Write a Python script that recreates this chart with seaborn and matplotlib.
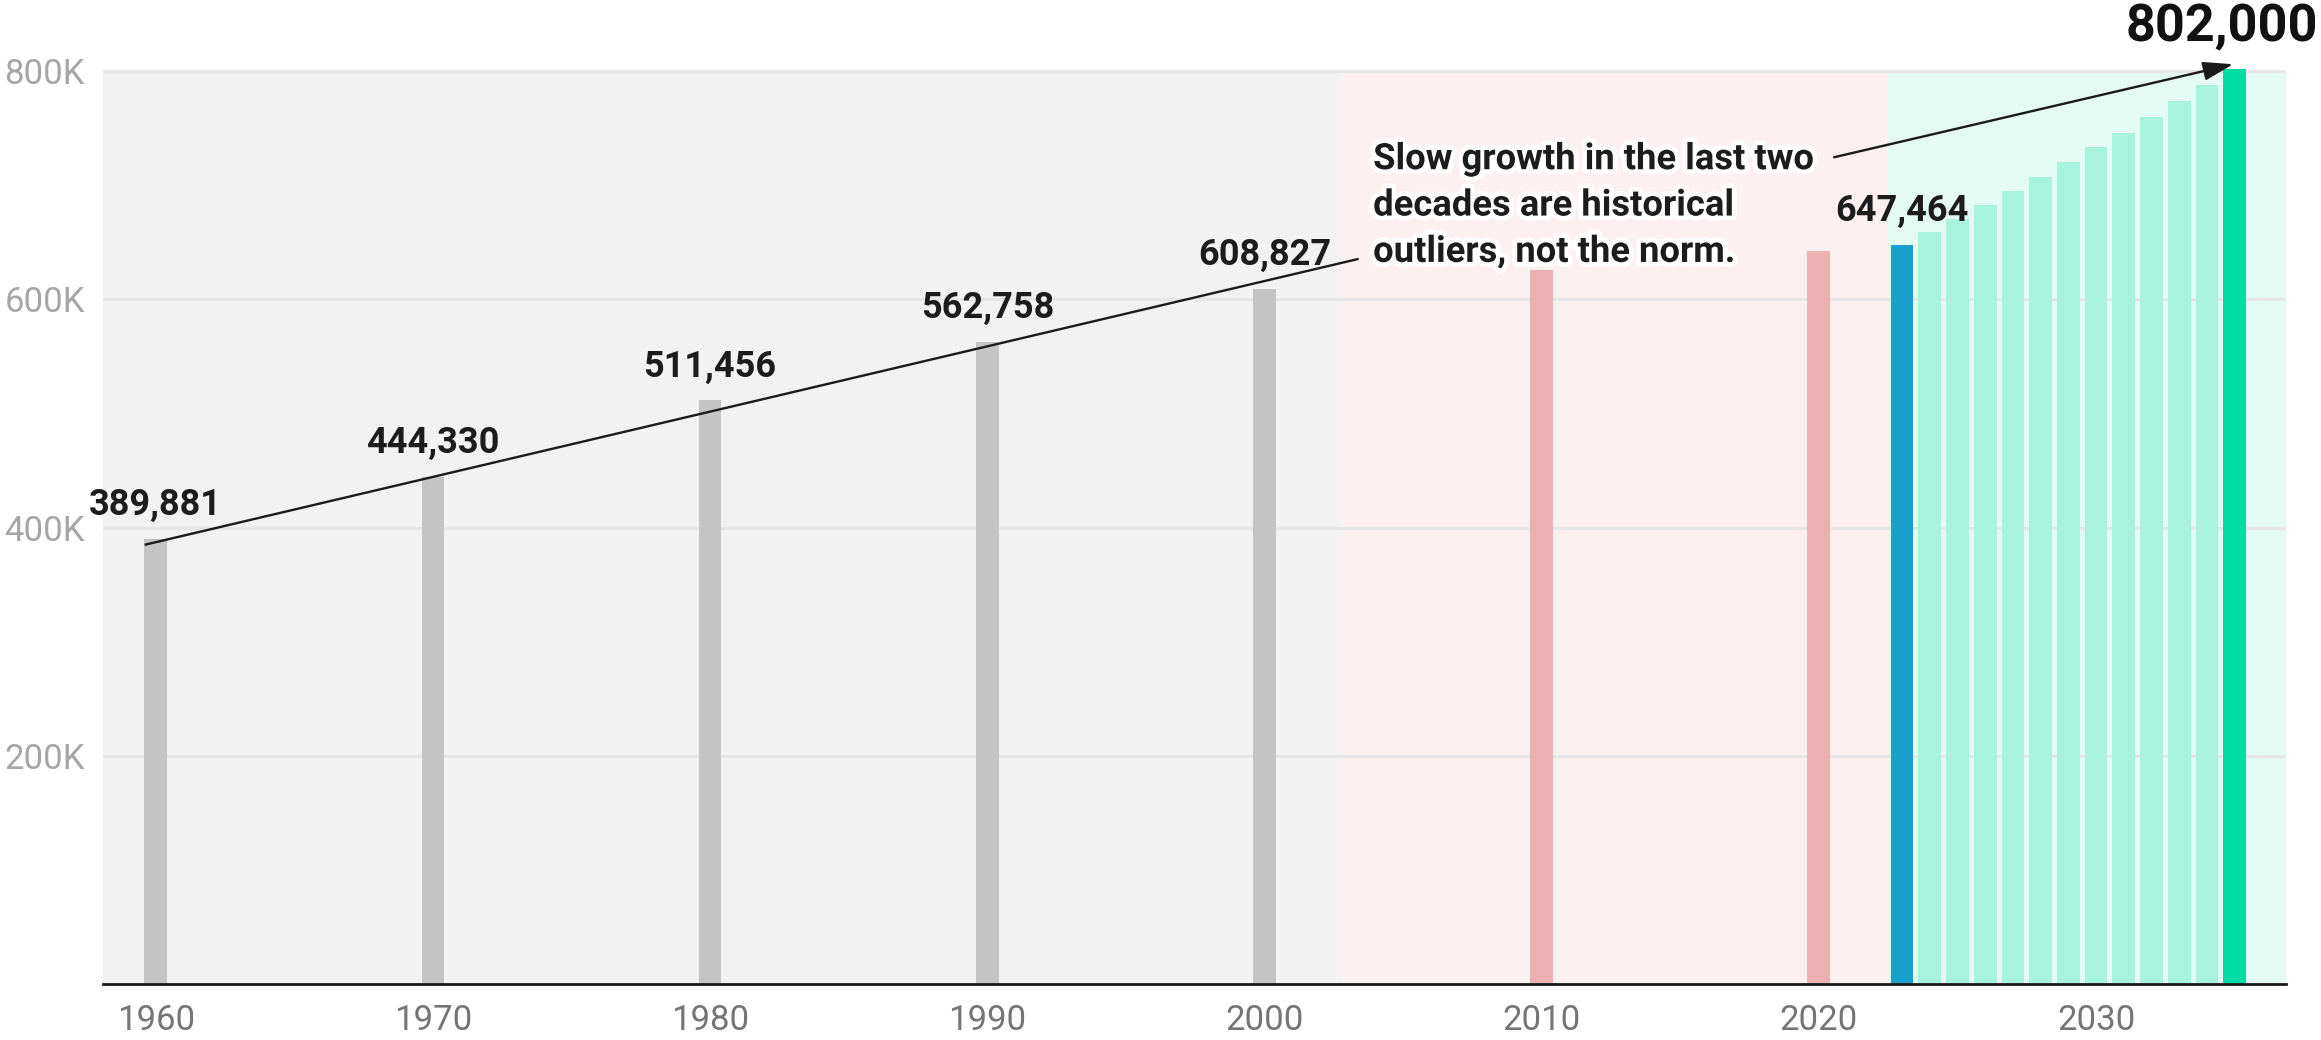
import matplotlib
matplotlib.use("Agg")
import matplotlib.pyplot as plt
import matplotlib.patheffects as pe
import seaborn as sns
import pandas as pd

# ---------------- data ----------------
years = [1960, 1970, 1980, 1990, 2000, 2010, 2020, 2023,
         2024, 2025, 2026, 2027, 2028, 2029, 2030, 2031, 2032, 2033, 2034, 2035]
values = [389881, 444330, 511456, 562758, 608827, 625500, 642700, 647464,
          658800, 670700, 682700, 694700, 707500, 720100, 733500, 746000,
          759800, 773800, 787800, 802000]
groups = ["hist"] * 5 + ["slow"] * 2 + ["now"] + ["proj"] * 11 + ["goal"]
labeled_years = [1960, 1970, 1980, 1990, 2000, 2023]
big_label_year = 2035
x_ticks = [1960, 1970, 1980, 1990, 2000, 2010, 2020, 2030]
y_ticks = [200000, 400000, 600000, 800000]
y_tick_labels = ["200K", "400K", "600K", "800K"]
regions = [(1958.1, 2002.75, "#f2f2f2"), (2002.75, 2022.5, "#fcf1f0"), (2022.5, 2036.86, "#e3fbf3")]
note = "Slow growth in the last two\ndecades are historical\noutliers, not the norm."

palette = {"hist": "#c4c4c4", "slow": "#ebb0af", "now": "#1aa0cd",
           "proj": "#a7f3de", "goal": "#00dca6"}

df = pd.DataFrame({"year": years, "value": values, "group": groups})

sns.set_theme(style="white")
plt.rcParams["font.family"] = ["Roboto", "DejaVu Sans"]

fig = plt.figure(figsize=(23.21, 10.4), dpi=100)
ax = fig.add_axes([0.0444, 0.05356, 0.9406, 0.8803])

# background regions
for x0, x1, c in regions:
    ax.fill_between([x0, x1], 0, 800000, color=c, lw=0, zorder=0)

sns.barplot(data=df, x="year", y="value", hue="group", palette=palette,
            native_scale=True, dodge=False, width=0.82, legend=False,
            saturation=1, linewidth=0, ax=ax, zorder=2)

ax.set_xlim(1958.1, 2036.86)
ax.set_ylim(0, 802000)

ax.set_yticks(y_ticks)
ax.set_yticklabels(y_tick_labels)
ax.set_xticks(x_ticks)
ax.set_xticklabels([str(t) for t in x_ticks])
ax.tick_params(axis="y", length=0, pad=13, labelsize=25, labelcolor="#a6a6a6")
ax.tick_params(axis="x", length=0, pad=14, labelsize=25, labelcolor="#757575")
ax.set_xlabel("")
ax.set_ylabel("")

ax.set_axisbelow(True)
ax.grid(axis="y", color="#e6e6e6", lw=2.2, zorder=0.5)
ax.grid(axis="x", visible=False)

for s in ["top", "right", "left"]:
    ax.spines[s].set_visible(False)
ax.spines["bottom"].set_color("#1a1a1a")
ax.spines["bottom"].set_linewidth(2)
ax.spines["bottom"].set_zorder(5)

# bar value labels
for yr, v in zip(years, values):
    if yr in labeled_years:
        ax.annotate(f"{v:,}", xy=(yr, v), xytext=(0, 17.3), textcoords="offset points",
                    ha="center", va="baseline", fontsize=26, fontweight="bold",
                    color="#1c1c1c", zorder=6)
    elif yr == big_label_year:
        ax.annotate(f"{v:,}", xy=(yr, v), xytext=(-9, 20), textcoords="offset points",
                    ha="center", va="baseline", fontsize=37.5, fontweight="bold",
                    color="#111111", zorder=6, annotation_clip=False)

# trend line (two segments around the note) and arrow
ax.plot([1959.6, 2003.4], [385000, 635500], color="#1a1a1a", lw=1.7, zorder=4,
        solid_capstyle="butt")
ax.annotate("", xy=(2034.95, 806000), xytext=(2020.55, 724500),
            arrowprops=dict(arrowstyle="-|>,head_length=0.8,head_width=0.25",
                            color="#1a1a1a", lw=1.7, mutation_scale=23,
                            shrinkA=0, shrinkB=0),
            zorder=4, annotation_clip=False)

ax.text(2003.92, 632800, note, ha="left", va="baseline", fontsize=26.2,
        fontweight="bold", color="#1c1c1c", linespacing=1.37, zorder=6,
        path_effects=[pe.withStroke(linewidth=7, foreground="white")])

fig.savefig("out.png", dpi=100)
